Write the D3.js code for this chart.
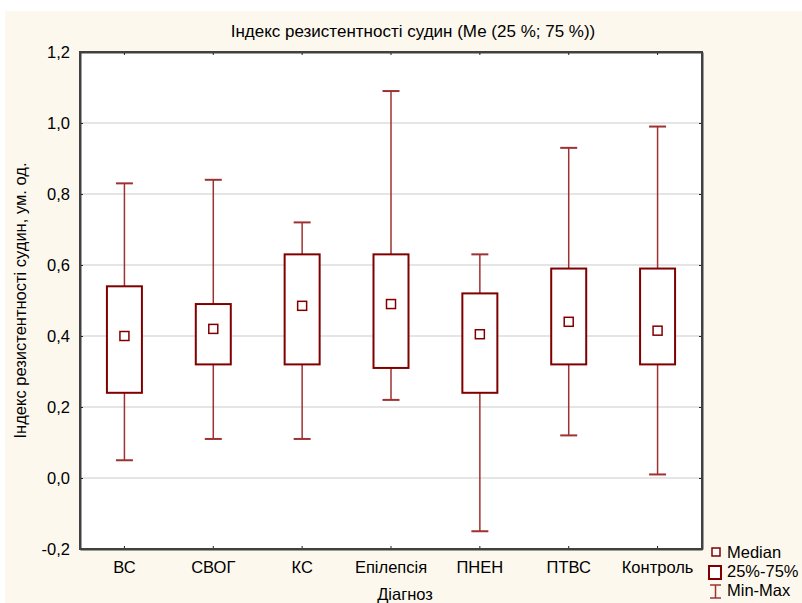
<!DOCTYPE html>
<html><head><meta charset="utf-8">
<script src="https://cdn.jsdelivr.net/npm/d3@7"></script>
<style>body{margin:0;background:#fff}svg{display:block;font-family:Arial,"Liberation Sans",sans-serif}</style>
</head><body><svg id="c" width="802" height="603"></svg>
<script>
const categories = ["ВС","СВОГ","КС","Епілепсія","ПНЕН","ПТВС","Контроль"];
const minVals    = [0.05, 0.11, 0.11, 0.22, -0.15, 0.12, 0.01];
const q1Vals     = [0.24, 0.32, 0.32, 0.31, 0.24, 0.32, 0.32];
const medianVals = [0.40, 0.42, 0.485, 0.49, 0.405, 0.44, 0.415];
const q3Vals     = [0.54, 0.49, 0.63, 0.63, 0.52, 0.59, 0.59];
const maxVals    = [0.83, 0.84, 0.72, 1.09, 0.63, 0.93, 0.99];
const yTicks     = [-0.2, 0, 0.2, 0.4, 0.6, 0.8, 1.0, 1.2];
const title = "Індекс резистентності судин (Ме (25 %; 75 %))";
const yLabel = "Індекс резистентності судин, ум. од.";
const xLabel = "Діагноз";
const legendItems = ["Median","25%-75%","Min-Max"];

const svg = d3.select("#c");
const L=80, R=702, T=52, B=549;
const boxColor="#800000", whiskColor="#9e3232", axisColor="#404040";
const FS = 16.5;

svg.append("rect").attr("x",5).attr("y",11).attr("width",797).attr("height",592).attr("fill","#fdf8ed");
svg.append("rect").attr("x",L).attr("y",T).attr("width",R-L).attr("height",B-T).attr("fill","#fff");

const x = d3.scaleBand().domain(categories).range([L,R]);
const y = d3.scaleLinear().domain([-0.2,1.2]).range([B,T]);
const fmt = d => d3.format(".1f")(d).replace(".",",").replace("−","-");

// grid
svg.append("g").selectAll("line").data(yTicks).join("line")
  .attr("x1",L).attr("x2",R).attr("y1",d=>y(d)).attr("y2",d=>y(d))
  .attr("stroke","#dcdcdc").attr("stroke-width",1.5);

// axes
const gl = svg.append("g").attr("transform",`translate(${L},0)`)
  .call(d3.axisLeft(y).tickValues(yTicks).tickFormat(fmt).tickSizeInner(-3).tickSizeOuter(0).tickPadding(10));
const gb = svg.append("g").attr("transform",`translate(0,${B})`)
  .call(d3.axisBottom(x).tickSizeInner(-3).tickSizeOuter(0).tickPadding(12));
const gt = svg.append("g").attr("transform",`translate(0,${T})`)
  .call(d3.axisTop(x).tickSizeInner(-3).tickSizeOuter(0).tickFormat(""));
const gr = svg.append("g").attr("transform",`translate(${R},0)`)
  .call(d3.axisRight(y).tickValues(yTicks).tickSizeInner(-3).tickSizeOuter(0).tickFormat(""));
[gl,gb,gt,gr].forEach(g=>{
  g.select(".domain").attr("stroke",axisColor).attr("stroke-width",2);
  g.selectAll(".tick line").attr("stroke","#222").attr("stroke-width",1);
  g.selectAll(".tick text").attr("fill","#000").attr("font-size",FS).attr("font-family","Arial, 'Liberation Sans', sans-serif");
});
gl.selectAll(".tick text").attr("dy","0.35em");
svg.append("rect").attr("x",L).attr("y",T).attr("width",R-L).attr("height",B-T)
  .attr("fill","none").attr("stroke",axisColor).attr("stroke-width",2);

// boxes
const bw=35, cw=17, mw=9;
const data = categories.map((c,i)=>({c,min:minVals[i],q1:q1Vals[i],med:medianVals[i],q3:q3Vals[i],max:maxVals[i]}));
const g = svg.append("g");
data.forEach(d=>{
  const cx = x(d.c)+x.bandwidth()/2;
  g.append("line").attr("x1",cx).attr("x2",cx).attr("y1",y(d.max)).attr("y2",y(d.q3)).attr("stroke",whiskColor).attr("stroke-width",1.5);
  g.append("line").attr("x1",cx).attr("x2",cx).attr("y1",y(d.q1)).attr("y2",y(d.min)).attr("stroke",whiskColor).attr("stroke-width",1.5);
  g.append("line").attr("x1",cx-cw/2).attr("x2",cx+cw/2).attr("y1",y(d.max)).attr("y2",y(d.max)).attr("stroke",whiskColor).attr("stroke-width",2);
  g.append("line").attr("x1",cx-cw/2).attr("x2",cx+cw/2).attr("y1",y(d.min)).attr("y2",y(d.min)).attr("stroke",whiskColor).attr("stroke-width",2);
  g.append("rect").attr("x",cx-bw/2).attr("y",y(d.q3)).attr("width",bw).attr("height",y(d.q1)-y(d.q3))
    .attr("fill","#fff").attr("stroke",boxColor).attr("stroke-width",2);
  g.append("rect").attr("x",cx-mw/2).attr("y",y(d.med)-mw/2).attr("width",mw).attr("height",mw)
    .attr("fill","#fff").attr("stroke",boxColor).attr("stroke-width",1.5);
});

// titles
svg.append("text").attr("x",413).attr("y",37).attr("text-anchor","middle").attr("font-size",17).text(title);
svg.append("text").attr("transform",`translate(26,${(T+B)/2}) rotate(-90)`).attr("text-anchor","middle").attr("font-size",FS).text(yLabel);
svg.append("text").attr("x",405).attr("y",600).attr("text-anchor","middle").attr("font-size",FS).text(xLabel);

// legend
const lg = svg.append("g");
lg.append("rect").attr("x",712).attr("y",548).attr("width",8).attr("height",8).attr("fill","#fff").attr("stroke",boxColor).attr("stroke-width",1.5);
lg.append("rect").attr("x",709).attr("y",566).attr("width",12).attr("height",13).attr("fill","#fff").attr("stroke",boxColor).attr("stroke-width",2);
lg.append("line").attr("x1",710).attr("x2",721).attr("y1",585).attr("y2",585).attr("stroke",whiskColor).attr("stroke-width",1.5);
lg.append("line").attr("x1",710).attr("x2",721).attr("y1",598).attr("y2",598).attr("stroke",whiskColor).attr("stroke-width",1.5);
lg.append("line").attr("x1",715.5).attr("x2",715.5).attr("y1",585).attr("y2",598).attr("stroke",whiskColor).attr("stroke-width",1.5);
lg.selectAll("text").data(legendItems).join("text")
  .attr("x",727).attr("y",(d,i)=>558+i*19).attr("font-size",FS).text(d=>d);
</script></body></html>
